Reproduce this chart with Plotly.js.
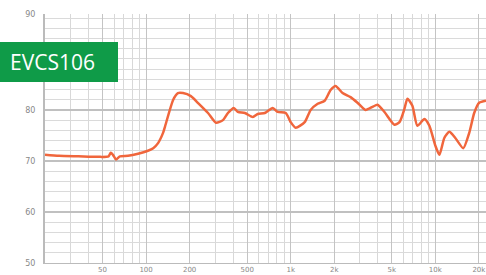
<!DOCTYPE html>
<html>
<head>
<meta charset="utf-8">
<script src="https://cdn.plot.ly/plotly-3.0.1.min.js"></script>
<style>
html,body{margin:0;padding:0;background:#fff;}
#chart{width:486px;height:275px;position:relative;}
#badge{position:absolute;left:0;top:42px;width:118px;height:40px;background:#0f9b48;color:#fff;
font-family:"Open Sans","DejaVu Sans",sans-serif;font-size:21px;line-height:40px;padding-left:10px;box-sizing:border-box;z-index:10;}
</style>
</head>
<body>
<div id="chart"></div>
<div id="badge">EVCS106</div>
<script>
const freqHz = [20,25,34,47,55,57,59,62,66,75,88,103,112,121,131,135,154,166,180,204,228,268,304,340,368,404,431,482,547,592,662,751,813,924,1000,1082,1249,1374,1536,1716,1887,2043,2284,2593,2897,3290,3679,3981,4448,5212,5649,6111,6412,6937,7509,8395,9091,10000,10667,11535,12491,13741,15604,17150,18567,20098,22400];
const splDb = [71.2,71.0,70.9,70.8,70.9,71.6,71.2,70.3,70.9,71.0,71.4,72.0,72.5,73.5,75.5,76.7,82.0,83.3,83.3,82.7,81.4,79.4,77.5,78.0,79.4,80.4,79.6,79.4,78.6,79.2,79.4,80.4,79.6,79.4,77.6,76.5,77.6,80.0,81.2,81.8,83.9,84.7,83.3,82.5,81.4,80.0,80.6,81.0,79.6,77.1,77.6,80.2,82.2,80.8,76.9,78.2,76.9,73.0,71.2,74.5,75.7,74.5,72.5,75.5,79.4,81.4,81.8];
const xTickVals = [50,100,200,500,1000,2000,5000,10000,20000];
const xTickText = ["50","100","200","500","1k","2k","5k","10k","20k"];
const yTickVals = [50,60,70,80,98.8];
const yTickText = ["50","60","70","80","90"];

const minorX = [];
for (const dec of [10,100,1000,10000]) for (let d=1; d<=9; d++) { const v=d*dec; if (v>=20 && v<=22400) minorX.push(v); }

const trace = {x: freqHz, y: splDb, type:'scatter', mode:'lines',
  line:{color:'#f0663c', width:2.5, shape:'spline', smoothing:0.6}, hoverinfo:'skip'};

const layout = {
  width:486, height:275,
  margin:{l:45, r:0, t:14, b:12},
  paper_bgcolor:'#fff', plot_bgcolor:'#fff',
  showlegend:false,
  xaxis:{type:'log', range:[Math.log10(20), Math.log10(22400)],
    tickvals:xTickVals, ticktext:xTickText, ticks:'', showgrid:true, gridcolor:'#c4c4c4', gridwidth:1,
    minor:{tickvals:minorX, showgrid:true, gridcolor:'#d8d8d8', gridwidth:1, ticks:''},
    tickfont:{family:'"DejaVu Sans", sans-serif', size:7, color:'#888'},
    ticklabeloverflow:'allow',
    zeroline:false, showline:true, linecolor:'#bbb', linewidth:1, ticklabelstandoff:0},
  yaxis:{range:[50,98.8], tickvals:yTickVals, ticktext:yTickText, ticks:'',
    showgrid:true, gridcolor:'#c0c0c0', gridwidth:2,
    minor:{dtick:2, tick0:50, showgrid:true, gridcolor:'#dadada', gridwidth:1, ticks:''},
    tickfont:{family:'"DejaVu Sans", sans-serif', size:8, color:'#888'},
    zeroline:false, showline:true, mirror:true, linecolor:'#bbb', linewidth:2, ticklabelstandoff:6}
};
Plotly.newPlot('chart', [trace], layout, {staticPlot:true, displayModeBar:false});
</script>
</body>
</html>
